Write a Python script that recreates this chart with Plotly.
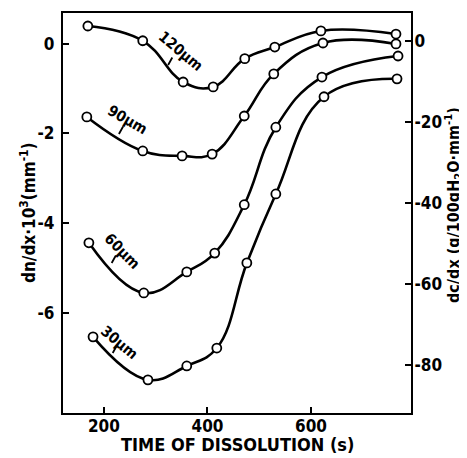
import plotly.graph_objects as go

# time of dissolution (s) and dn/dx*10^3 (mm^-1)
t_120 = [169, 275, 353, 411, 472, 530, 619, 764]
n_120 = [0.40, 0.07, -0.85, -0.96, -0.33, -0.07, 0.29, 0.22]

t_90 = [167, 275, 351, 409, 471, 528, 623, 764]
n_90 = [-1.63, -2.39, -2.50, -2.46, -1.61, -0.67, 0.02, 0.00]

t_60 = [171, 277, 360, 414, 471, 532, 621, 768]
n_60 = [-4.44, -5.56, -5.09, -4.67, -3.59, -1.86, -0.74, -0.27]

t_30 = [179, 285, 360, 418, 476, 532, 625, 766]
n_30 = [-6.54, -7.50, -7.19, -6.79, -4.89, -3.35, -1.18, -0.78]

labels = ["120µm", "90µm", "60µm", "30µm"]
# label centre (t, n, rotation) and where its little leader touches the curve
label_pos = [(348, -0.15, 40), (246, -1.70, 30), (235, -4.62, 45), (231, -6.67, 40)]
leader_pos = [(324, -0.47), (229, -2.01), (215, -4.89), (217, -6.90)]

x_ticks = [200, 400, 600]
yl_ticks = [0, -2, -4, -6]
yr_ticks = [0, -20, -40, -60, -80]

FONT = "DejaVu Sans Condensed, DejaVu Sans"

fig = go.Figure()
for t, n in [(t_120, n_120), (t_90, n_90), (t_60, n_60), (t_30, n_30)]:
    fig.add_scatter(x=t, y=n, mode="lines+markers",
                    line=dict(color="black", width=2.6, shape="spline", smoothing=1.2),
                    marker=dict(symbol="circle", size=9, color="white",
                                line=dict(color="black", width=1.8)),
                    showlegend=False)

for lab, (x, y, ang), (lx, ly) in zip(labels, label_pos, leader_pos):
    fig.add_annotation(x=x, y=y, text="<b>" + lab + "</b>", showarrow=False,
                       textangle=ang, font=dict(family=FONT, size=15, color="black"))
    fig.add_annotation(x=lx, y=ly, text="", showarrow=True, arrowhead=0,
                       arrowwidth=1.8, arrowcolor="black", ax=5, ay=-9)

axis_common = dict(showline=True, linecolor="black", linewidth=2.2, showgrid=False,
                   zeroline=False, ticks="inside", ticklen=6, tickwidth=2, tickcolor="black",
                   automargin=False,
                   tickfont=dict(family=FONT, size=17, color="black"))

# page body has an 8px margin, so the figure is a bit smaller than the window
fig.update_layout(
    width=459, height=450,
    margin=dict(l=55, r=56, t=5, b=45),
    plot_bgcolor="white", paper_bgcolor="white",
    xaxis=dict(axis_common, range=[121, 793], tickvals=x_ticks, ticklabelstandoff=-4,
               ticktext=["<b>%d</b>" % v for v in x_ticks], mirror=True),
    yaxis=dict(axis_common, range=[-8.24, 0.69], tickvals=yl_ticks, ticklabelstandoff=3,
               ticktext=["<b>%d</b>" % v for v in yl_ticks]),
    yaxis2=dict(axis_common, overlaying="y", side="right", range=[-91.9, 6.9],
                tickvals=yr_ticks, ticklabelstandoff=-2,
                ticktext=["<b>%d</b>" % v for v in yr_ticks]),
)

# axis titles placed by hand
fig.add_annotation(x=0.5, y=0, xref="paper", yref="paper", yshift=-44, yanchor="bottom",
                   text="<b>TIME OF DISSOLUTION (s)</b>", showarrow=False,
                   font=dict(family=FONT, size=18, color="black"))
fig.add_annotation(x=0, y=0.5, xref="paper", yref="paper", xshift=-35, xanchor="center",
                   textangle=-90, text="<b>dn/dx·10<sup>3</sup>(mm<sup>-1</sup>)</b>",
                   showarrow=False, font=dict(family=FONT, size=17, color="black"))
fig.add_annotation(x=1, y=0.52, xref="paper", yref="paper", xshift=42, xanchor="center",
                   textangle=-90, text="<b>dc/dx (g/100gH<sub>2</sub>O·mm<sup>-1</sup>)</b>",
                   showarrow=False, font=dict(family=FONT, size=16, color="black"))

# invisible helper so the right axis is drawn
fig.add_scatter(x=[None], y=[None], yaxis="y2", showlegend=False, hoverinfo="skip")

fig.write_html("out.html")
